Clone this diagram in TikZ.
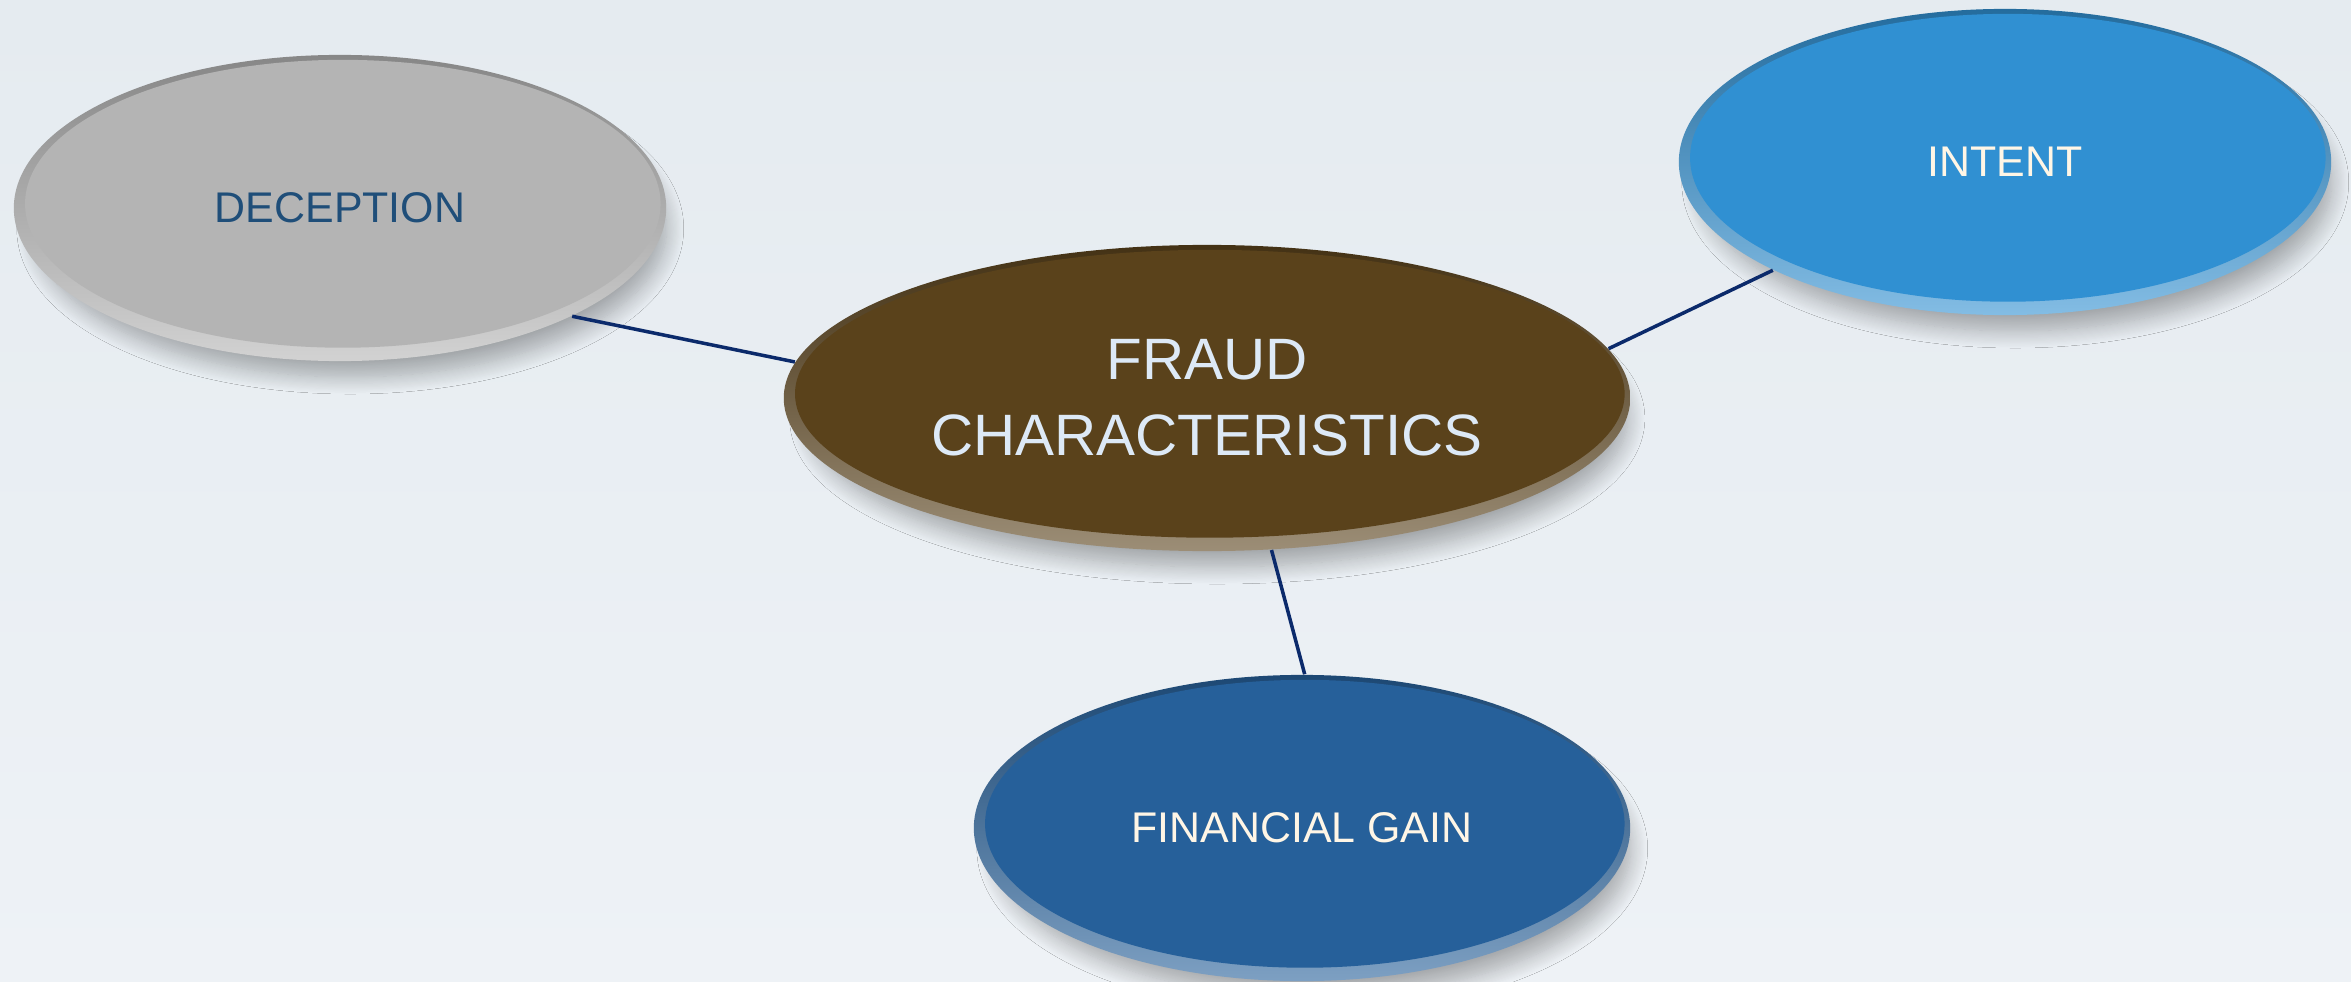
\documentclass[tikz,border=0pt]{standalone}
\usepackage{fontspec}
\setmainfont{Liberation Sans}
\usepackage{tikz}
\usetikzlibrary{calc,shapes.geometric,shadows.blur}
\definecolor{bgtop}{HTML}{E5EBF0}
\definecolor{bgbottom}{HTML}{EEF2F6}
\definecolor{linknavy}{HTML}{0B2A6B}
\definecolor{decgray}{HTML}{B4B4B4}
\definecolor{dectext}{HTML}{1F4E79}
\definecolor{fraudbrown}{HTML}{5A421B}
\definecolor{fraudtext}{HTML}{DDE9F6}
\definecolor{intentblue}{HTML}{3090D2}
\definecolor{gainblue}{HTML}{26609A}
\definecolor{creamtext}{HTML}{FFF6E6}

\begin{document}
\begin{tikzpicture}[
    x=0.01cm, y=-0.01cm,
    bubble/.style={ellipse, inner sep=0pt, align=center,
                   minimum width=6.52cm, minimum height=3.06cm,
                   font=\fontsize{12.2}{15}\selectfont,
                   blur shadow={shadow xshift=3pt, shadow yshift=-6pt,
                                shadow scale=0.97, shadow blur steps=16,
                                shadow blur radius=5pt, shadow opacity=30},
                   top color=#1!75!black, bottom color=#1!60!white,
                   path picture={\fill[#1]
                     let \p1=(path picture bounding box.south west),
                         \p2=(path picture bounding box.north east) in
                     ($(\p1)!0.5!(\p2)+(0.8pt,1.2pt)$)
                     ellipse ({0.5*\x2-0.5*\x1-2.4pt} and {0.5*\y2-0.5*\y1-2.6pt});}},
    link/.style={draw=linknavy, line width=1pt}
  ]
    % backdrop
    \useasboundingbox (0,0) rectangle (2351,982);
    \shade[top color=bgtop, bottom color=bgbottom] (0,0) rectangle (2351,982);

    \node[bubble=decgray, text=dectext] (deception) at (340,208) {DECEPTION};
    \node[bubble=fraudbrown, text=fraudtext, minimum width=8.46cm,
          font=\fontsize{16.6}{21.6}\selectfont] (fraud) at (1207,398)
          {FRAUD\\CHARACTERISTICS};
    \node[bubble=intentblue, text=creamtext] (intent) at (2005,162) {INTENT};
    \node[bubble=gainblue, text=creamtext, minimum width=6.56cm] (gain) at (1302,828)
          {FINANCIAL GAIN};

    % spokes
    \draw[link] (deception.-25) -- (fraud.175);
    \draw[link] (fraud.7) -- (intent.205);
    \draw[link] (fraud.-67) -- (gain.89);
  \end{tikzpicture}
\end{document}
